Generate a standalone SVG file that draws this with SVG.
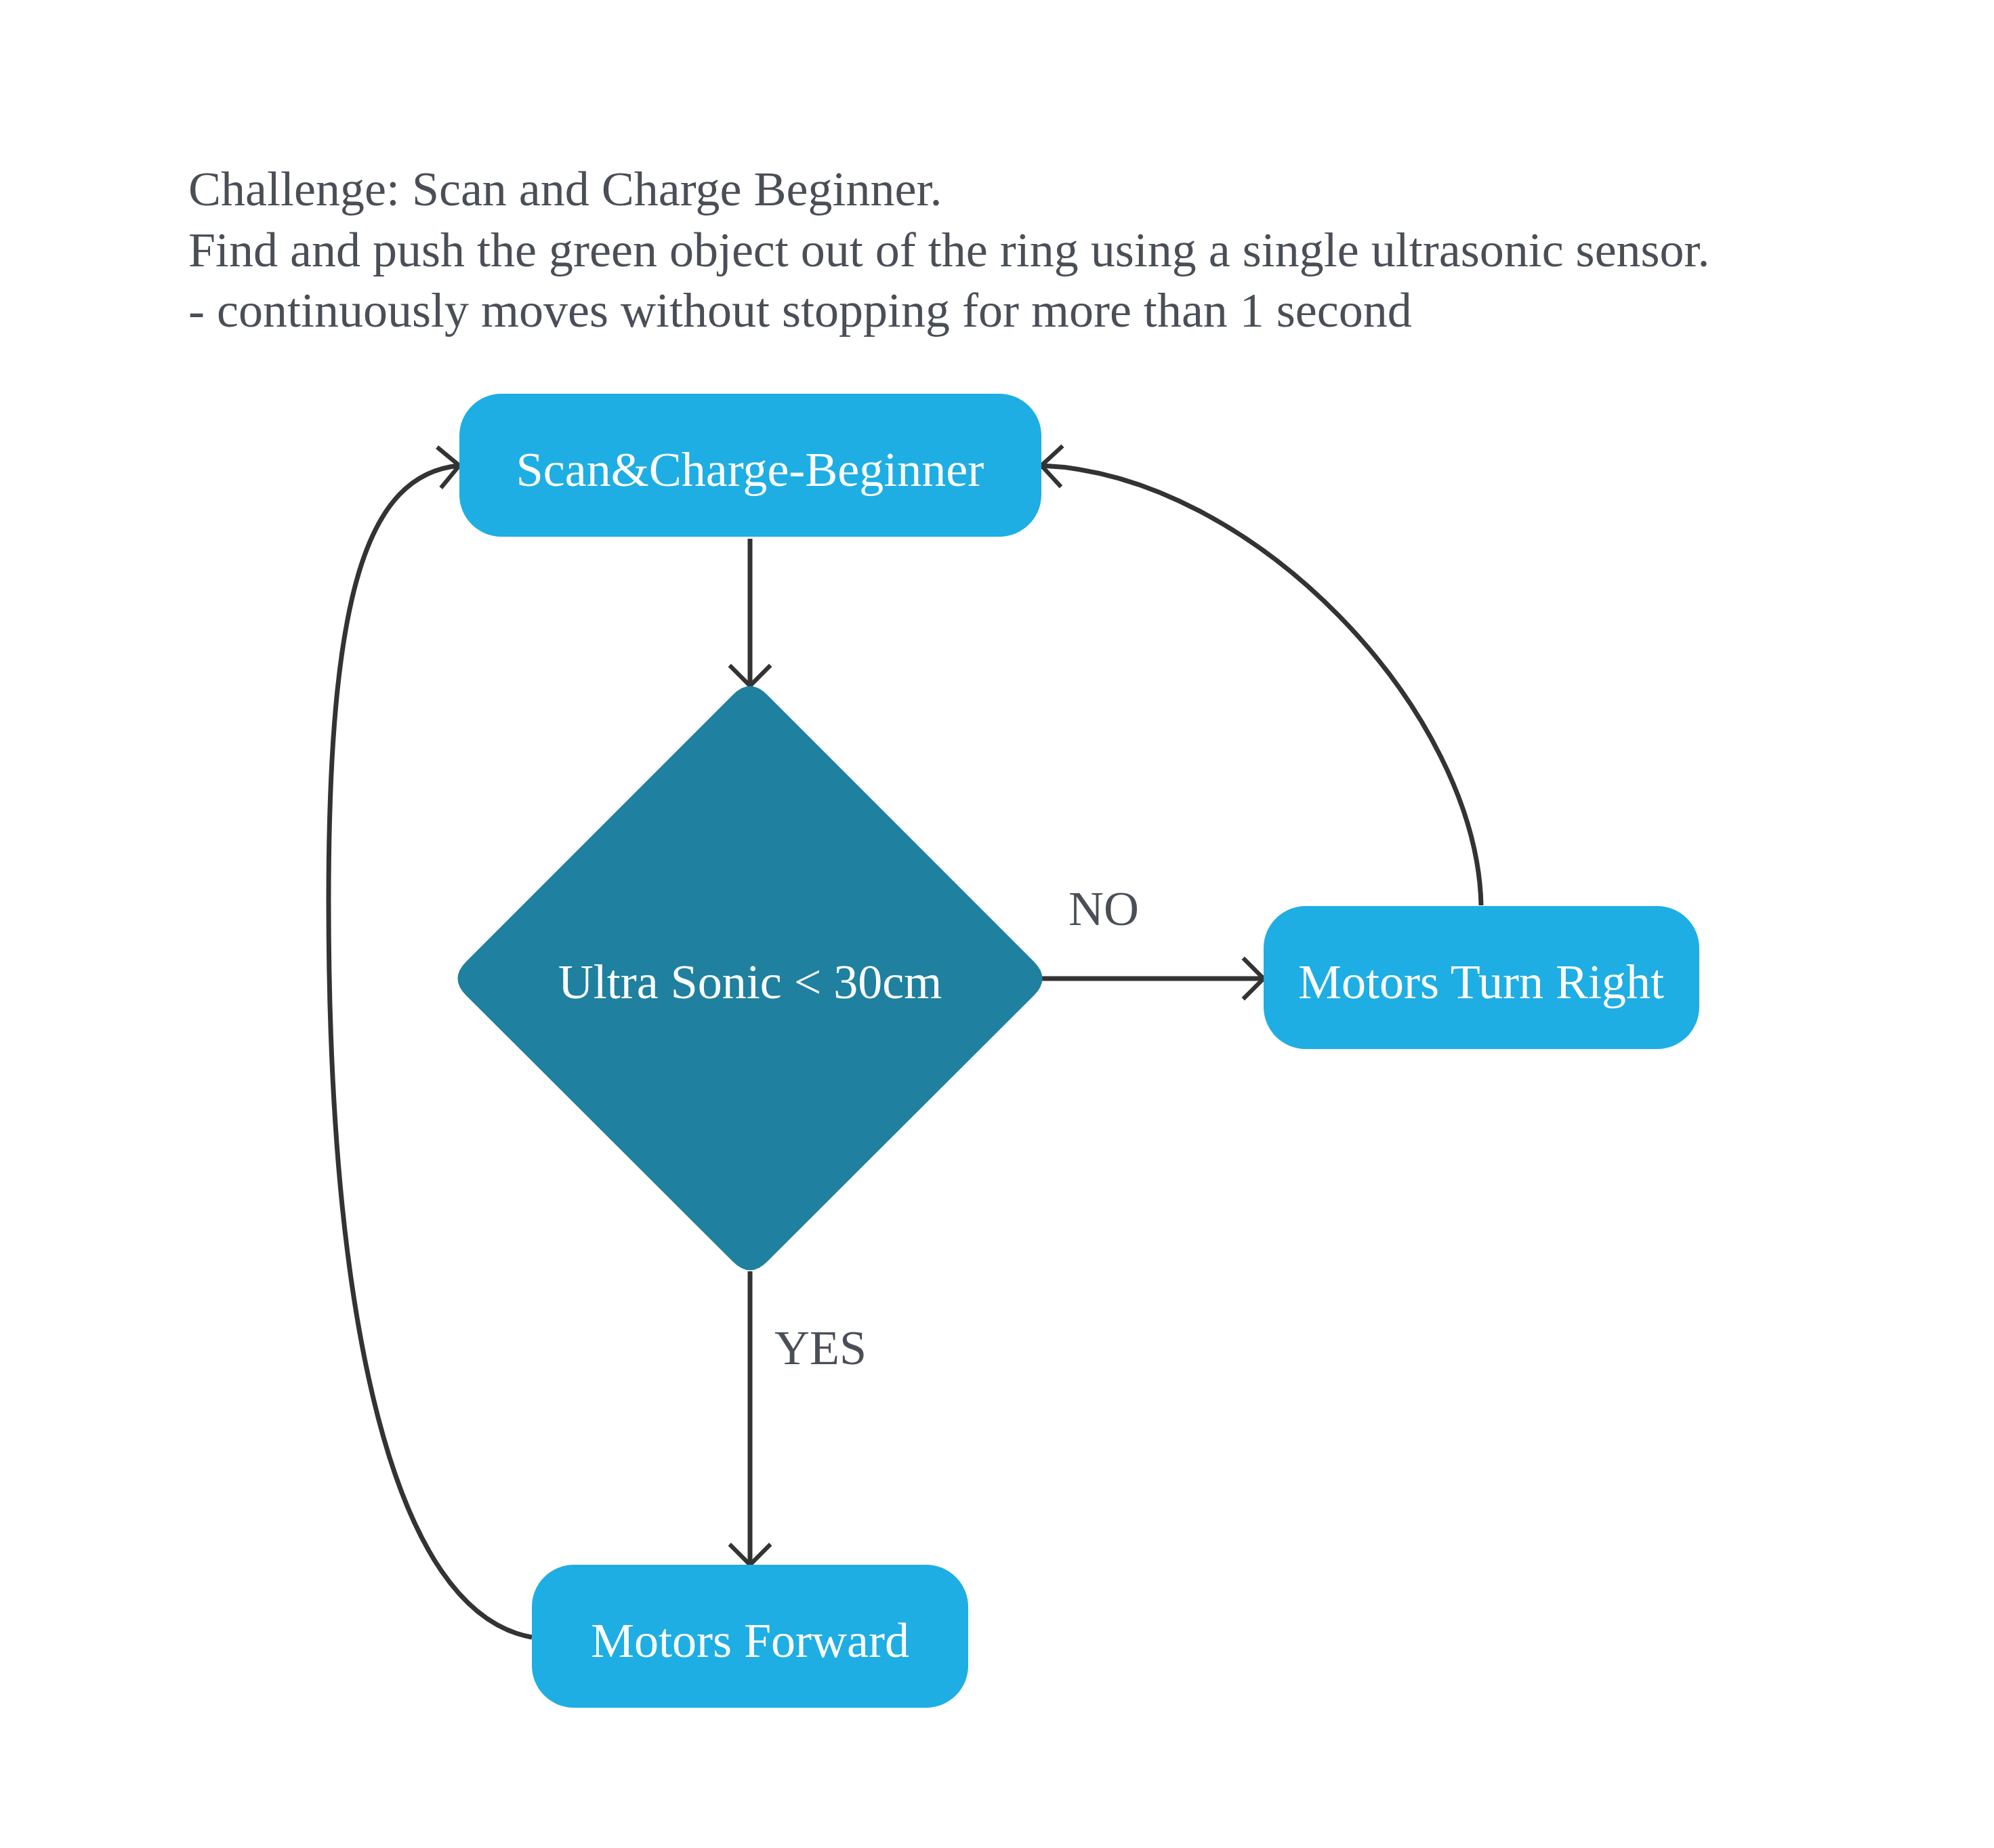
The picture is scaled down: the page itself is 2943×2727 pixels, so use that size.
<svg xmlns="http://www.w3.org/2000/svg" width="2943" height="2727" viewBox="0 0 2943 2727">
<style>
.title{font-family:"Liberation Serif","Times New Roman",serif;font-size:72px;fill:#4a4f57}
.lbl{font-family:"Liberation Serif","Times New Roman",serif;font-size:72px;fill:#4a4f57}
.ntext{font-family:"Liberation Serif","Times New Roman",serif;font-size:72px;fill:#ffffff;text-anchor:middle}
.box{fill:#1eaee3}
.dia{fill:#1f809f}
.conn{fill:none;stroke:#333333;stroke-width:7}
</style>
<defs>
<marker id="arr" markerUnits="userSpaceOnUse" markerWidth="80" markerHeight="80" viewBox="-45 -45 90 90" refX="0" refY="0" orient="auto">
<path d="M-34,-34 L0,0 L-34,34" fill="none" stroke="#333333" stroke-width="7"/>
</marker>
</defs>
<rect width="2943" height="2727" fill="#ffffff"/>
<g id="title">
<text class="title" x="278" y="303">Challenge: Scan and Charge Beginner.</text>
<text class="title" x="278" y="393">Find and push the green object out of the ring using a single ultrasonic sensor.</text>
<text class="title" x="278" y="482">- continuously moves without stopping for more than 1 second</text>
</g>
<g id="connectors">
<path class="conn" d="M1107,795 L1107,1012" marker-end="url(#arr)"/>
<path class="conn" d="M1538,1444 L1865,1444" marker-end="url(#arr)"/>
<path class="conn" d="M1107,1876 L1107,2309" marker-end="url(#arr)"/>
<path class="conn" d="M2186,1336 C2180,1050 1850,700 1537,687" marker-end="url(#arr)"/>
<path class="conn" d="M785,2416 C580,2380 485,1950 485,1330 C485,880 540,700 678,687" marker-end="url(#arr)"/>
<text class="lbl" x="1577" y="1365">NO</text>
<text class="lbl" x="1143" y="2013">YES</text>
</g>
<g id="node-scan">
<rect class="box" x="678" y="581" width="859" height="211" rx="62" ry="62"/>
<text class="ntext" x="1107" y="717">Scan&amp;Charge-Beginner</text>
</g>
<g id="node-decision">
<path class="dia" d="M1082,1025 Q1107,1000 1132,1025 L1526,1419 Q1551,1444 1526,1469 L1132,1862 Q1107,1887 1082,1862 L688,1469 Q663,1444 688,1419 Z"/>
<text class="ntext" x="1107" y="1473">Ultra Sonic &lt; 30cm</text>
</g>
<g id="node-right">
<rect class="box" x="1865" y="1337" width="643" height="211" rx="62" ry="62"/>
<text class="ntext" x="2186" y="1473">Motors Turn Right</text>
</g>
<g id="node-forward">
<rect class="box" x="785" y="2309" width="644" height="211" rx="62" ry="62"/>
<text class="ntext" x="1107" y="2445">Motors Forward</text>
</g>
</svg>
